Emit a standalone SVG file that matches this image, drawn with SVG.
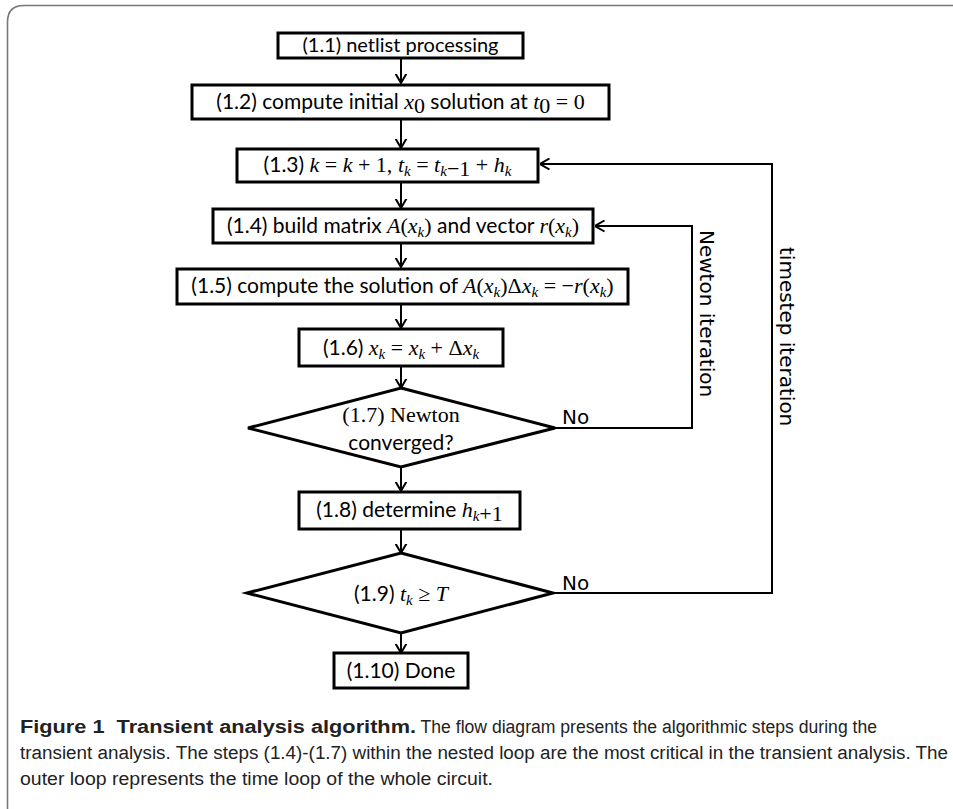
<svg xmlns="http://www.w3.org/2000/svg" width="953" height="809" viewBox="0 0 953 809">
<style>
.box{fill:#fff;stroke:#000;stroke-width:3}
.con{fill:none;stroke:#000;stroke-width:2}
.t{font-family:Lato,"Liberation Sans",sans-serif;font-size:21px;fill:#000}
.m{font-family:"Liberation Serif","DejaVu Serif",serif;font-style:italic;font-size:22px}
.r{font-family:"Liberation Serif","DejaVu Serif",serif;font-style:normal;font-size:22px}
.s{font-family:"Liberation Serif","DejaVu Serif",serif;font-style:italic;font-size:15px}
.lbl{font-family:"DejaVu Sans",sans-serif;font-size:20px;fill:#000}
.cap{font-family:"Liberation Sans",sans-serif;font-size:18px;fill:#222}
.capb{font-weight:bold}
</style>
<defs>
<marker id="ah" viewBox="0 0 10 12" refX="9.5" refY="6" markerWidth="10" markerHeight="13" markerUnits="userSpaceOnUse" orient="auto">
<path d="M0,0.5 L9.5,6 L0,11.5" fill="none" stroke="#000" stroke-width="2"/>
</marker>
</defs>
<rect width="953" height="809" fill="#fff"/>
<path d="M7.5,809 V22 Q7.5,5.5 24,5.5 H953" fill="none" stroke="#777" stroke-width="1.6"/>

<g id="connectors">
<line class="con" x1="401" y1="59" x2="401" y2="83" marker-end="url(#ah)"/>
<line class="con" x1="401" y1="120" x2="401" y2="148" marker-end="url(#ah)"/>
<line class="con" x1="401" y1="183" x2="401" y2="208" marker-end="url(#ah)"/>
<line class="con" x1="401" y1="244" x2="401" y2="267" marker-end="url(#ah)"/>
<line class="con" x1="401" y1="305" x2="401" y2="328" marker-end="url(#ah)"/>
<line class="con" x1="401" y1="367" x2="401" y2="388" marker-end="url(#ah)"/>
<line class="con" x1="401" y1="467" x2="401" y2="491" marker-end="url(#ah)"/>
<line class="con" x1="401" y1="530" x2="401" y2="553" marker-end="url(#ah)"/>
<line class="con" x1="401" y1="633" x2="401" y2="653" marker-end="url(#ah)"/>
<polyline class="con" points="555,428 692,428 692,226 595,226" marker-end="url(#ah)"/>
<polyline class="con" points="553,593 772,593 772,164 540,164" marker-end="url(#ah)"/>
<text class="lbl" x="562" y="424">No</text>
<text class="lbl" x="562" y="590">No</text>
<text class="lbl" transform="translate(700,230) rotate(90)">Newton iteration</text>
<text class="lbl" transform="translate(780,247) rotate(90)">timestep iteration</text>
</g>

<g id="n1_1">
<rect class="box" x="278" y="33" width="245" height="25"/>
<text class="t" x="400.5" y="52" text-anchor="middle" style="font-size:20px">(1.1) netlist processing</text>
</g>
<g id="n1_2">
<rect class="box" x="192" y="85" width="417" height="34"/>
<text class="t" x="400.5" y="109" text-anchor="middle">(1.2) compute initial <tspan class="m">x</tspan><tspan class="r" font-size="15" dy="4">0</tspan><tspan dy="-4"> solution at </tspan><tspan class="m">t</tspan><tspan class="r" font-size="15" dy="4">0</tspan><tspan class="r" dy="-4"> = 0</tspan></text>
</g>
<g id="n1_3">
<rect class="box" x="237" y="149" width="301" height="33"/>
<text class="t" x="387.5" y="172" text-anchor="middle">(1.3) <tspan class="m">k</tspan><tspan class="r"> = </tspan><tspan class="m">k</tspan><tspan class="r"> + 1, </tspan><tspan class="m">t</tspan><tspan class="s" dy="4">k</tspan><tspan class="r" dy="-4"> = </tspan><tspan class="m">t</tspan><tspan class="s" dy="4">k</tspan><tspan class="r" font-size="15">−1</tspan><tspan class="r" dy="-4"> + </tspan><tspan class="m">h</tspan><tspan class="s" dy="4">k</tspan></text>
</g>
<g id="n1_4">
<rect class="box" x="213" y="209" width="380" height="34"/>
<text class="t" x="403" y="233" text-anchor="middle">(1.4) build matrix <tspan class="m">A</tspan><tspan class="r">(</tspan><tspan class="m">x</tspan><tspan class="s" dy="4">k</tspan><tspan class="r" dy="-4">)</tspan> and vector <tspan class="m">r</tspan><tspan class="r">(</tspan><tspan class="m">x</tspan><tspan class="s" dy="4">k</tspan><tspan class="r" dy="-4">)</tspan></text>
</g>
<g id="n1_5">
<rect class="box" x="177" y="269" width="451" height="35"/>
<text class="t" x="402.5" y="293" text-anchor="middle">(1.5) compute the solution of <tspan class="m">A</tspan><tspan class="r">(</tspan><tspan class="m">x</tspan><tspan class="s" dy="4">k</tspan><tspan class="r" dy="-4">)Δ</tspan><tspan class="m">x</tspan><tspan class="s" dy="4">k</tspan><tspan class="r" dy="-4"> = −</tspan><tspan class="m">r</tspan><tspan class="r">(</tspan><tspan class="m">x</tspan><tspan class="s" dy="4">k</tspan><tspan class="r" dy="-4">)</tspan></text>
</g>
<g id="n1_6">
<rect class="box" x="299" y="329" width="204" height="37"/>
<text class="t" x="401" y="355" text-anchor="middle">(1.6) <tspan class="m">x</tspan><tspan class="s" dy="4">k</tspan><tspan class="r" dy="-4"> = </tspan><tspan class="m">x</tspan><tspan class="s" dy="4">k</tspan><tspan class="r" dy="-4"> + Δ</tspan><tspan class="m">x</tspan><tspan class="s" dy="4">k</tspan></text>
</g>
<g id="n1_7">
<polygon class="box" points="401,388 555,428 401,467 248,428"/>
<text class="r" x="401" y="422" text-anchor="middle" style="font-size:22px">(1.7) Newton</text>
<text class="t" x="401" y="450" text-anchor="middle">converged?</text>
</g>
<g id="n1_8">
<rect class="box" x="299" y="492" width="221" height="37"/>
<text class="t" x="409.5" y="517" text-anchor="middle">(1.8) determine <tspan class="m">h</tspan><tspan class="s" dy="4">k</tspan><tspan class="r" font-size="15">+1</tspan></text>
</g>
<g id="n1_9">
<polygon class="box" points="401,553 553,593 401,633 247,593"/>
<text class="t" x="401" y="601" text-anchor="middle">(1.9) <tspan class="m">t</tspan><tspan class="s" dy="4">k</tspan><tspan class="r" dy="-4"> ≥ </tspan><tspan class="m">T</tspan></text>
</g>
<g id="n1_10">
<rect class="box" x="334" y="653" width="134" height="35"/>
<text class="t" x="401" y="678" text-anchor="middle">(1.10) Done</text>
</g>

<g id="caption">
<text class="cap" x="20" y="733"><tspan class="capb" textLength="396" lengthAdjust="spacingAndGlyphs">Figure 1&#160; Transient analysis algorithm.</tspan><tspan textLength="461" lengthAdjust="spacingAndGlyphs"> The flow diagram presents the algorithmic steps during the</tspan></text>
<text class="cap" x="20" y="759" textLength="928" lengthAdjust="spacingAndGlyphs">transient analysis. The steps (1.4)-(1.7) within the nested loop are the most critical in the transient analysis. The</text>
<text class="cap" x="20" y="785" textLength="473" lengthAdjust="spacingAndGlyphs">outer loop represents the time loop of the whole circuit.</text>
</g>
</svg>
